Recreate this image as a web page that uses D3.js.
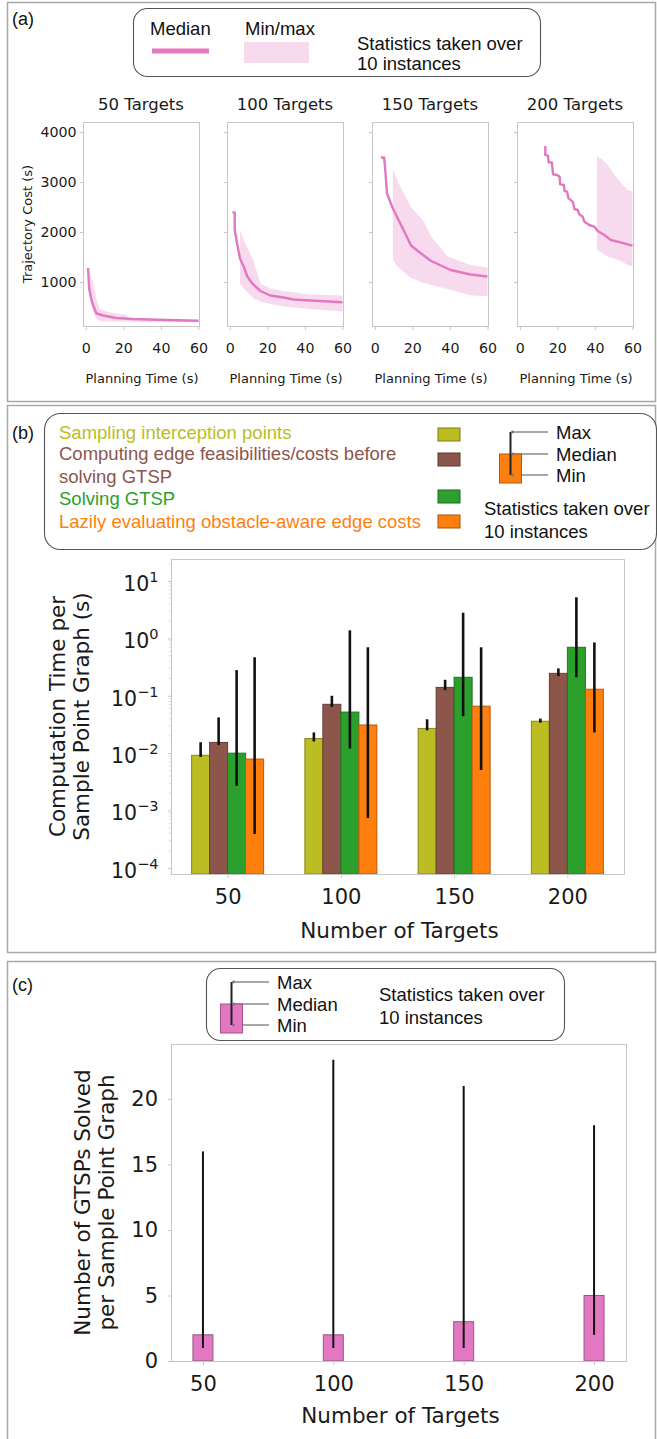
<!DOCTYPE html>
<html>
<head>
<meta charset="utf-8">
<script src="https://cdn.jsdelivr.net/npm/d3@7"></script>
<style>
  body { margin: 0; background: #fff; }
  svg { display: block; }
</style>
</head>
<body>
<svg id="fig" width="657" height="1439"></svg>
<script>
// ---------- panel (a): trajectory cost vs planning time ----------
const targetCounts = [50, 100, 150, 200];
const timeTicks = [0, 20, 40, 60];
const costTicks = [1000, 2000, 3000, 4000];

const medTime50 = [1.2, 1.8, 2.8, 3.9, 5.7, 9.2, 16.3, 25.2, 43, 60];
const medCost50 = [1280, 870, 680, 530, 370, 330, 280, 260, 240, 225];
const bandTime50 = [1.8, 2.5, 3.9, 5.7, 7.4, 12, 19.7, 22, 22.5, 40, 60];
const bandHi50 = [870, 1150, 1000, 650, 460, 400, 350, 340, 270, 250, 240];
const bandLo50 = [870, 620, 400, 260, 220, 210, 205, 203, 200, 198, 195];

const medTime100 = [1.4, 2.6, 2.6, 3.7, 5.4, 7.5, 9.3, 12, 16.3, 21.6, 28.6, 33.9, 42.7, 60];
const medCost100 = [2390, 2390, 2050, 1810, 1470, 1300, 1110, 970, 820, 730, 690, 650, 630, 595];
const bandTime100 = [5.4, 7.5, 12.8, 16.3, 21.6, 28.6, 42.7, 60];
const bandHi100 = [2040, 1840, 1410, 970, 870, 820, 750, 730];
const bandLo100 = [970, 870, 670, 610, 560, 510, 460, 410];

const medTime150 = [3.2, 4.9, 5.3, 6.5, 9.6, 14.9, 19.3, 24.6, 30, 40.4, 51, 60];
const medCost150 = [3490, 3490, 3370, 2770, 2470, 2070, 1730, 1570, 1420, 1240, 1150, 1110];
const bandTime150 = [9.6, 12.3, 19.3, 26.3, 30, 38.7, 51, 60];
const bandHi150 = [3270, 3000, 2500, 2200, 1910, 1510, 1340, 1290];
const bandLo150 = [1450, 1300, 1080, 980, 940, 860, 735, 715];

const medTime200 = [13.6, 13.6, 15.0, 15.4, 17.1, 17.7, 19.9, 21.2, 21.5, 23.5, 23.8, 25.2, 25.9, 28.2,
                    29.1, 30.9, 31.7, 33.5, 34.4, 37.0, 39.7, 41.5, 45.0, 48.5, 52.1, 60];
const medCost200 = [3720, 3540, 3527, 3393, 3393, 3153, 3140, 3107, 2953, 2940, 2820, 2807, 2673, 2607,
                    2460, 2440, 2353, 2307, 2207, 2140, 2107, 2020, 1940, 1840, 1807, 1727];
const bandTime200 = [41.1, 43.6, 46.8, 50.3, 53.8, 57.4, 60];
const bandHi200 = [3510, 3460, 3340, 3150, 2990, 2840, 2810];
const bandLo200 = [1640, 1590, 1510, 1470, 1420, 1340, 1310];

// ---------- panel (b): computation time per stage (log) ----------
const stageNames = ['Sampling interception points', 'Computing edge feasibilities/costs before',
                    'Solving GTSP', 'Lazily evaluating obstacle-aware edge costs'];
const stageColors = ['#bcbd22', '#8c564b', '#2ca02c', '#ff7f0e'];
const samplingMed = [0.0092, 0.018, 0.027, 0.036];
const samplingMin = [0.0086, 0.016, 0.025, 0.034];
const samplingMax = [0.0155, 0.023, 0.039, 0.040];
const edgeMed = [0.0154, 0.071, 0.14, 0.246];
const edgeMin = [0.0138, 0.064, 0.125, 0.22];
const edgeMax = [0.042, 0.10, 0.19, 0.30];
const solveMed = [0.010, 0.052, 0.21, 0.70];
const solveMin = [0.0027, 0.012, 0.044, 0.21];
const solveMax = [0.28, 1.38, 2.8, 5.2];
const lazyMed = [0.0079, 0.031, 0.066, 0.13];
const lazyMin = [0.00039, 0.00074, 0.0051, 0.023];
const lazyMax = [0.47, 0.70, 0.70, 0.85];
const logTicks = [-4, -3, -2, -1, 0, 1];

// ---------- panel (c): number of GTSPs solved ----------
const gtspMed = [2, 2, 3, 5];
const gtspMin = [1, 1, 1, 2];
const gtspMax = [16, 23, 21, 18];
const countTicks = [0, 5, 10, 15, 20];

const PLOT_FONT = '"DejaVu Sans", sans-serif';
const LEG_FONT = '"Liberation Sans", Arial, sans-serif';
const PINK = '#e377c2';
const SPINE = '#c6c6c6';

const svg = d3.select('#fig');
svg.append('rect').attr('width', 657).attr('height', 1439).attr('fill', '#fff');

// outer panel frames
[[2, 401], [405, 952], [961, 1470]].forEach(([y0, y1]) => {
    svg.append('rect')
        .attr('x', 7.5).attr('y', y0 + 0.5)
        .attr('width', 648).attr('height', y1 - y0)
        .attr('fill', 'none').attr('stroke', '#a8a8a8').attr('stroke-width', 1.5);
});

function txt(g, x, y, s, size, opts = {}) {
    return g.append('text')
        .attr('x', x).attr('y', y)
        .attr('font-family', opts.font || LEG_FONT)
        .attr('font-size', size)
        .attr('fill', opts.color || '#111')
        .attr('text-anchor', opts.anchor || 'start')
        .text(s);
}

function roundBox(x, y, w, h, r) {
    svg.append('rect').attr('x', x).attr('y', y).attr('width', w).attr('height', h)
        .attr('rx', r).attr('ry', r)
        .attr('fill', '#fff').attr('stroke', '#555').attr('stroke-width', 1.1);
}

function styleAxis(g, size) {
    g.select('.domain').remove();
    g.selectAll('.tick line').attr('stroke', SPINE);
    g.selectAll('.tick text').attr('font-family', PLOT_FONT).attr('font-size', size).attr('fill', '#1a1a1a');
}

// box-plot style key used in (b) and (c)
function statKey(x0, yMax, yMed, yMin, barTop, barBot, color, textX) {
    const lineEnd = textX - 8;
    [yMax, yMed, yMin].forEach(y => {
        svg.append('line').attr('x1', x0 + 1).attr('x2', lineEnd).attr('y1', y).attr('y2', y)
            .attr('stroke', '#8a8a8a').attr('stroke-width', 1.3);
    });
    svg.append('rect').attr('x', x0 - 11).attr('y', barTop).attr('width', 22).attr('height', barBot - barTop)
        .attr('fill', color).attr('stroke', d3.color(color).darker(1)).attr('stroke-width', 1);
    svg.append('line').attr('x1', x0).attr('x2', x0).attr('y1', yMax).attr('y2', yMin)
        .attr('stroke', '#222').attr('stroke-width', 2);
    [yMax, yMed, yMin].forEach(y => {
        svg.append('circle').attr('cx', x0 + 2).attr('cy', y).attr('r', 1.4).attr('fill', '#777');
    });
    txt(svg, textX, yMax + 6.6, 'Max', 18.5);
    txt(svg, textX, yMed + 6.6, 'Median', 18.5);
    txt(svg, textX, yMin + 6.6, 'Min', 18.5);
}

// ================= (a) =================
txt(svg, 12, 24.5, '(a)', 18);
roundBox(133.5, 8.5, 407, 68, 14);
txt(svg, 150, 35, 'Median', 18.5);
svg.append('line').attr('x1', 152).attr('x2', 209).attr('y1', 51).attr('y2', 51)
    .attr('stroke', PINK).attr('stroke-width', 5);
txt(svg, 245, 35, 'Min/max', 18.5);
svg.append('rect').attr('x', 244).attr('y', 42).attr('width', 65).attr('height', 21)
    .attr('fill', PINK).attr('fill-opacity', 0.27);
txt(svg, 357, 49.5, 'Statistics taken over', 18.5);
txt(svg, 357, 69.5, '10 instances', 18.5);

const costSeries = [
    { med: [medTime50, medCost50], band: [bandTime50, bandLo50, bandHi50] },
    { med: [medTime100, medCost100], band: [bandTime100, bandLo100, bandHi100] },
    { med: [medTime150, medCost150], band: [bandTime150, bandLo150, bandHi150] },
    { med: [medTime200, medCost200], band: [bandTime200, bandLo200, bandHi200] }
];
const subLeft = [83, 227, 372, 517];
const subW = 116, subTop = 122, subBot = 326;
const costY = d3.scaleLinear().domain([120, 4200]).range([subBot, subTop]);

costSeries.forEach((s, i) => {
    const x0 = subLeft[i];
    const tx = d3.scaleLinear().domain([-1.5, 60.3]).range([x0, x0 + subW]);
    const g = svg.append('g');

    const bandPts = s.band[0].map((t, k) => ({ t, lo: s.band[1][k], hi: s.band[2][k] }));
    g.append('path').datum(bandPts)
        .attr('d', d3.area().x(d => tx(d.t)).y0(d => costY(d.lo)).y1(d => costY(d.hi)))
        .attr('fill', PINK).attr('fill-opacity', 0.27);

    const medPts = s.med[0].map((t, k) => ({ t, v: s.med[1][k] }));
    g.append('path').datum(medPts)
        .attr('d', d3.line().x(d => tx(d.t)).y(d => costY(d.v)))
        .attr('fill', 'none').attr('stroke', PINK).attr('stroke-width', 2.4)
        .attr('stroke-linejoin', 'round');

    g.append('rect').attr('x', x0 + 0.5).attr('y', subTop + 0.5).attr('width', subW).attr('height', subBot - subTop)
        .attr('fill', 'none').attr('stroke', SPINE).attr('stroke-width', 1);

    const xa = g.append('g').attr('transform', `translate(0,${subBot + 0.5})`)
        .call(d3.axisBottom(tx).tickValues(timeTicks).tickSize(3.5).tickPadding(13));
    styleAxis(xa, 14.2);

    const ya = g.append('g').attr('transform', `translate(${x0 + 0.5},0)`)
        .call(d3.axisLeft(costY).tickValues(costTicks).tickSize(3.5).tickPadding(3.5)
            .tickFormat(i === 0 ? d3.format('d') : () => ''));
    styleAxis(ya, 14.2);

    txt(g, x0 + subW / 2, 110, `${targetCounts[i]} Targets`, 16.5, { font: PLOT_FONT, anchor: 'middle', color: '#1a1a1a' });
    txt(g, x0 + subW / 2 + 1, 383, 'Planning Time (s)', 13, { font: PLOT_FONT, anchor: 'middle', color: '#1a1a1a' });
});
txt(svg, 0, 0, 'Trajectory Cost (s)', 13, { font: PLOT_FONT, anchor: 'middle', color: '#1a1a1a' })
    .attr('transform', `translate(32,${(subTop + subBot) / 2}) rotate(-90)`);

// ================= (b) =================
txt(svg, 12, 439, '(b)', 18);
roundBox(44.5, 413.5, 612, 136, 16);
const legLineY = [438.5, 459.5, 482.5, 504.5, 527.5];
txt(svg, 59, legLineY[0], stageNames[0], 18.5, { color: stageColors[0] });
txt(svg, 59, legLineY[1], stageNames[1], 18.5, { color: stageColors[1] });
txt(svg, 59, legLineY[2], 'solving GTSP', 18.5, { color: stageColors[1] });
txt(svg, 59, legLineY[3], stageNames[2], 18.5, { color: stageColors[2] });
txt(svg, 59, legLineY[4], stageNames[3], 18.5, { color: stageColors[3] });
[428, 453, 490, 515].forEach((y, j) => {
    svg.append('rect').attr('x', 438).attr('y', y).attr('width', 22).attr('height', 13)
        .attr('fill', stageColors[j]).attr('stroke', d3.color(stageColors[j]).darker(1.2)).attr('stroke-width', 1);
});
statKey(510.5, 432, 454, 475, 454, 483, stageColors[3], 556);
txt(svg, 484, 514.5, 'Statistics taken over', 18.5);
txt(svg, 484, 537.5, '10 instances', 18.5);

const stages = [
    { color: stageColors[0], med: samplingMed, lo: samplingMin, hi: samplingMax },
    { color: stageColors[1], med: edgeMed, lo: edgeMin, hi: edgeMax },
    { color: stageColors[2], med: solveMed, lo: solveMin, hi: solveMax },
    { color: stageColors[3], med: lazyMed, lo: lazyMin, hi: lazyMax }
];
const bL = 171, bR = 624, bT = 559, bB = 874;
const xB = d3.scaleLinear().domain([-0.5, 3.5]).range([bL, bR]);
const yB = d3.scaleLog().domain([10 ** -4.105, 10 ** 1.383]).range([bB, bT]);
const barW = 18;
const gb = svg.append('g');

stages.forEach((st, j) => {
    gb.selectAll(null).data(st.med).join('rect')
        .attr('x', (d, i) => xB(i) + (j - 2) * barW)
        .attr('y', d => yB(d))
        .attr('width', barW).attr('height', d => bB - yB(d))
        .attr('fill', st.color)
        .attr('stroke', d3.color(st.color).darker(0.9)).attr('stroke-width', 1);
});
stages.forEach((st, j) => {
    gb.selectAll(null).data(st.med).join('line')
        .attr('x1', (d, i) => xB(i) + (j - 1.5) * barW)
        .attr('x2', (d, i) => xB(i) + (j - 1.5) * barW)
        .attr('y1', (d, i) => yB(st.hi[i]))
        .attr('y2', (d, i) => yB(st.lo[i]))
        .attr('stroke', '#111').attr('stroke-width', 2.6);
});
gb.append('rect').attr('x', bL + 0.5).attr('y', bT + 0.5).attr('width', bR - bL).attr('height', bB - bT)
    .attr('fill', 'none').attr('stroke', SPINE).attr('stroke-width', 1);

// log minor ticks
const minorVals = [];
logTicks.forEach(k => d3.range(2, 10).forEach(m => {
    const v = m * 10 ** k;
    if (v < yB.domain()[1]) minorVals.push(v);
}));
gb.selectAll(null).data(minorVals).join('line')
    .attr('x1', bL - 2).attr('x2', bL + 0.5)
    .attr('y1', d => yB(d)).attr('y2', d => yB(d))
    .attr('stroke', '#d0d0d0').attr('stroke-width', 0.8);

const bxa = gb.append('g').attr('transform', `translate(0,${bB + 0.5})`)
    .call(d3.axisBottom(xB).tickValues([0, 1, 2, 3]).tickSize(3.5).tickPadding(11.5)
        .tickFormat(i => targetCounts[i]));
styleAxis(bxa, 21);
const bya = gb.append('g').attr('transform', `translate(${bL + 0.5},0)`)
    .call(d3.axisLeft(yB).tickValues(logTicks.map(k => 10 ** k)).tickSize(3.5).tickPadding(9.5));
styleAxis(bya, 20.5);
bya.selectAll('.tick text').each(function (d) {
    const t = d3.select(this).text(null).attr('dy', '0.45em');
    const e = Math.round(Math.log10(d));
    t.append('tspan').text('10');
    t.append('tspan').attr('dy', '-0.62em').attr('font-size', 14.5)
        .text(e < 0 ? '\u2212' + (-e) : String(e));
});
txt(gb, (bL + bR) / 2 + 2, 937.5, 'Number of Targets', 21.5, { font: PLOT_FONT, anchor: 'middle', color: '#1a1a1a' });
txt(gb, 0, 0, 'Computation Time per', 21.5, { font: PLOT_FONT, anchor: 'middle', color: '#1a1a1a' })
    .attr('transform', `translate(65,${(bT + bB) / 2}) rotate(-90)`);
txt(gb, 0, 0, 'Sample Point Graph (s)', 21.5, { font: PLOT_FONT, anchor: 'middle', color: '#1a1a1a' })
    .attr('transform', `translate(89,${(bT + bB) / 2}) rotate(-90)`);

// ================= (c) =================
txt(svg, 12, 991, '(c)', 18);
roundBox(206.5, 968.5, 358, 72, 14);
statKey(231.5, 982, 1004, 1025, 1004, 1033, PINK, 277);
txt(svg, 379, 1001, 'Statistics taken over', 18.5);
txt(svg, 379, 1024, '10 instances', 18.5);

const cL = 171, cR = 626, cT = 1044, cB = 1361;
const xC = d3.scaleLinear().domain([-0.245, 3.245]).range([cL, cR]);
const yC = d3.scaleLinear().domain([0, 24.2]).range([cB, cT]);
const gc = svg.append('g');
gc.selectAll(null).data(gtspMed).join('rect')
    .attr('x', (d, i) => xC(i) - 10).attr('y', d => yC(d))
    .attr('width', 20).attr('height', d => cB - yC(d))
    .attr('fill', PINK).attr('stroke', '#8d5b7e').attr('stroke-width', 1);
gc.selectAll(null).data(gtspMed).join('line')
    .attr('x1', (d, i) => xC(i)).attr('x2', (d, i) => xC(i))
    .attr('y1', (d, i) => yC(gtspMax[i])).attr('y2', (d, i) => yC(gtspMin[i]))
    .attr('stroke', '#111').attr('stroke-width', 2);
gc.append('rect').attr('x', cL + 0.5).attr('y', cT + 0.5).attr('width', cR - cL).attr('height', cB - cT)
    .attr('fill', 'none').attr('stroke', SPINE).attr('stroke-width', 1);
const cxa = gc.append('g').attr('transform', `translate(0,${cB + 0.5})`)
    .call(d3.axisBottom(xC).tickValues([0, 1, 2, 3]).tickSize(3.5).tickPadding(11.5)
        .tickFormat(i => targetCounts[i]));
styleAxis(cxa, 21);
const cya = gc.append('g').attr('transform', `translate(${cL + 0.5},0)`)
    .call(d3.axisLeft(yC).tickValues(countTicks).tickSize(3.5).tickPadding(10));
styleAxis(cya, 21);
txt(gc, (cL + cR) / 2 + 2, 1423, 'Number of Targets', 21.5, { font: PLOT_FONT, anchor: 'middle', color: '#1a1a1a' });
txt(gc, 0, 0, 'Number of GTSPs Solved', 21.5, { font: PLOT_FONT, anchor: 'middle', color: '#1a1a1a' })
    .attr('transform', `translate(90,${(cT + cB) / 2}) rotate(-90)`);
txt(gc, 0, 0, 'per Sample Point Graph', 21.5, { font: PLOT_FONT, anchor: 'middle', color: '#1a1a1a' })
    .attr('transform', `translate(114,${(cT + cB) / 2}) rotate(-90)`);
</script>
</body>
</html>
